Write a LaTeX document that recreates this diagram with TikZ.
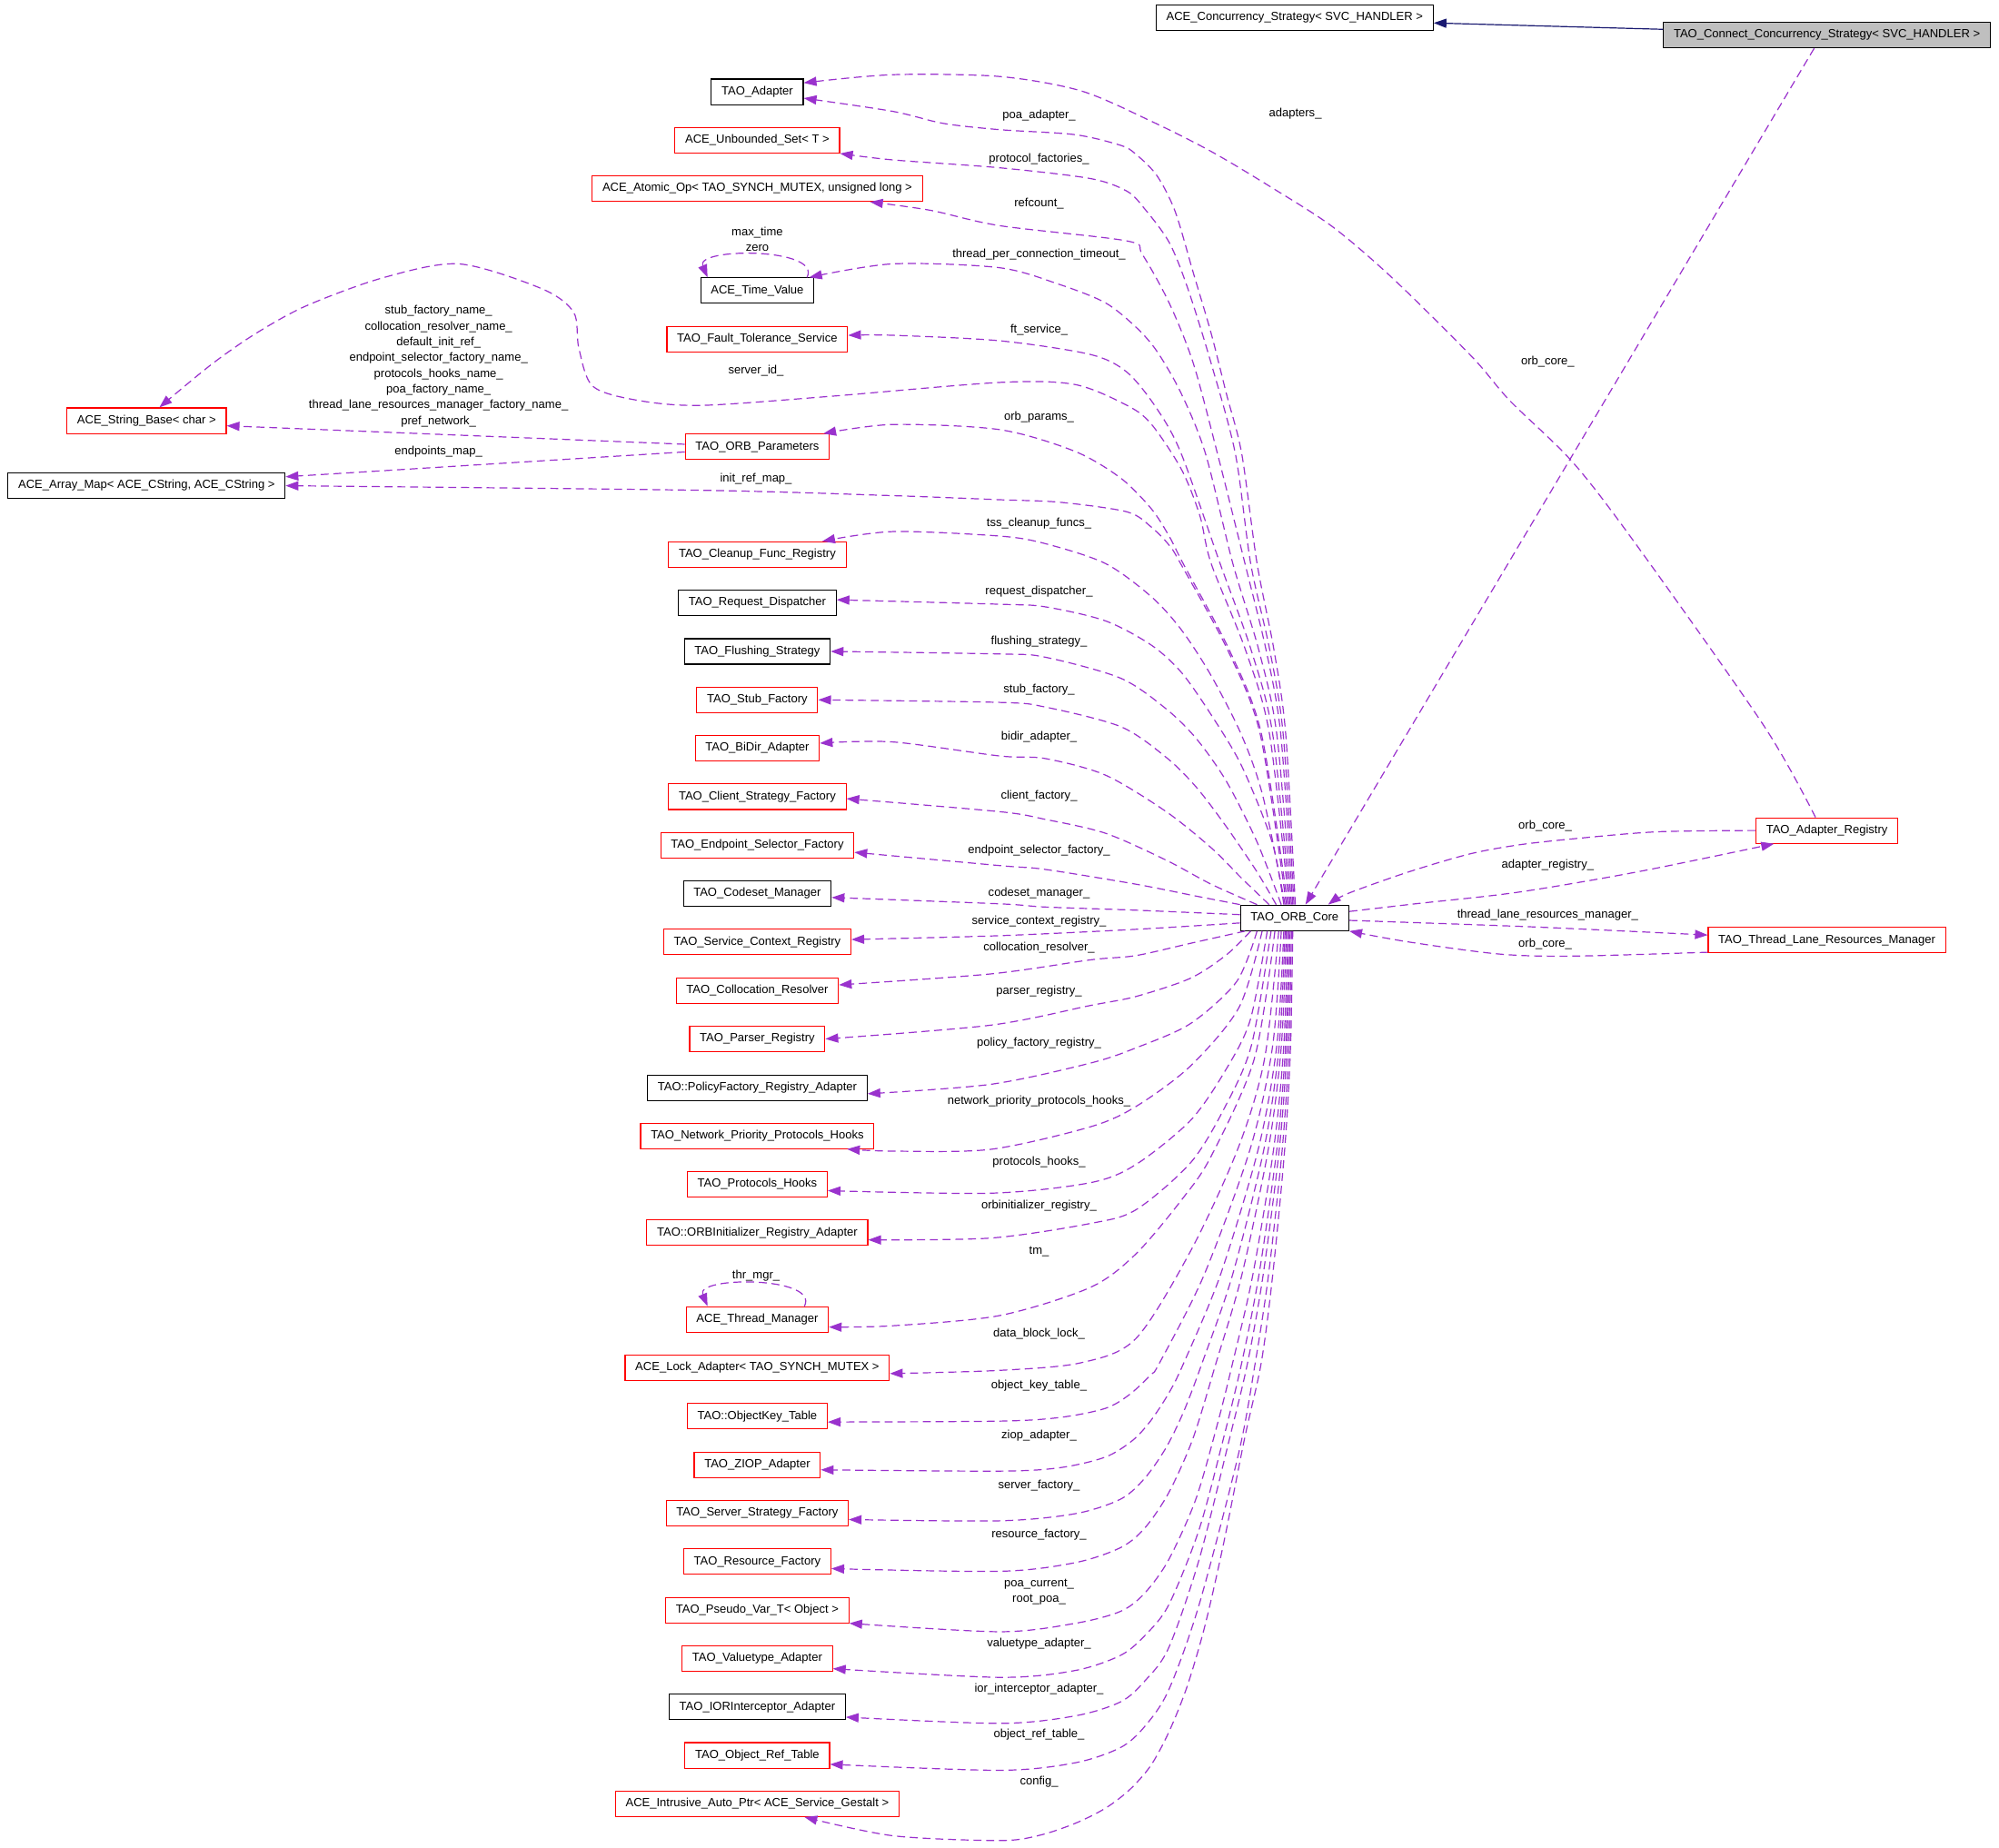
\documentclass[tikz,border=0pt]{standalone}
\usepackage{fontspec}
\newfontfamily\dgfont{Liberation Sans}
\usetikzlibrary{arrows.meta,calc}
\definecolor{edgep}{HTML}{9A32CD}
\definecolor{boxred}{HTML}{FF0000}
\definecolor{navyb}{HTML}{191970}
\definecolor{grayf}{HTML}{BFBFBF}
\newcommand\dgsize{\dgfont\fontsize{6.5pt}{8.66pt}\selectfont}
\tikzset{
  cls/.style={draw, line width=0.55pt, inner xsep=5.6pt, inner ysep=0pt, minimum height=14pt, text height=4.7pt, text depth=1.4pt, font=\dgsize},
  rcls/.style={cls, draw=boxred},
  bcls/.style={cls, draw=black},
  lbl/.style={inner sep=0pt, font=\dgsize, text height=4.7pt, text depth=1.4pt},
  mlbl/.style={inner sep=0pt, font=\dgsize, align=center},
  rel/.style={draw=edgep, line width=0.6pt, dash pattern=on 4.4pt off 2.6pt, -{Triangle[length=7pt,width=5pt]}},
  inh/.style={draw=navyb, line width=0.6pt, -{Triangle[length=7pt,width=5pt]}}
}
\begin{document}
\begin{tikzpicture}[x=0.7pt,y=-0.7pt]
\useasboundingbox (0,0) rectangle (1568,1449);
\fill[white] (0,0) rectangle (1568,1449);

% ---------- nodes ----------
\node[bcls] (conc) at (1015.5,14) {ACE\_Concurrency\_Strategy< SVC\_HANDLER >};
\node[bcls, fill=grayf] (connect) at (1433,27.5) {TAO\_Connect\_Concurrency\_Strategy< SVC\_HANDLER >};
\node[bcls] (adapter) at (594,72) {TAO\_Adapter};
\node[rcls] (uset) at (594,110) {ACE\_Unbounded\_Set< T >};
\node[rcls] (atomic) at (594,148) {ACE\_Atomic\_Op< TAO\_SYNCH\_MUTEX, unsigned long >};
\node[bcls] (timev) at (594,228) {ACE\_Time\_Value};
\node[rcls] (ft) at (594,266) {TAO\_Fault\_Tolerance\_Service};
\node[rcls] (strb) at (115,330) {ACE\_String\_Base< char >};
\node[rcls] (orbp) at (594,350.5) {TAO\_ORB\_Parameters};
\node[bcls] (amap) at (115,381) {ACE\_Array\_Map< ACE\_CString, ACE\_CString >};
\node[rcls] (cleanup) at (594,435) {TAO\_Cleanup\_Func\_Registry};
\node[bcls] (reqd) at (594,473) {TAO\_Request\_Dispatcher};
\node[bcls] (flush) at (594,511) {TAO\_Flushing\_Strategy};
\node[rcls] (stub) at (594,549) {TAO\_Stub\_Factory};
\node[rcls] (bidir) at (594,587) {TAO\_BiDir\_Adapter};
\node[rcls] (client) at (594,625) {TAO\_Client\_Strategy\_Factory};
\node[rcls] (endp) at (594,663) {TAO\_Endpoint\_Selector\_Factory};
\node[bcls] (codeset) at (594,701) {TAO\_Codeset\_Manager};
\node[rcls] (svcctx) at (594,739) {TAO\_Service\_Context\_Registry};
\node[rcls] (colloc) at (594,777) {TAO\_Collocation\_Resolver};
\node[rcls] (parser) at (594,815) {TAO\_Parser\_Registry};
\node[bcls] (policy) at (594,853.6) {TAO::PolicyFactory\_Registry\_Adapter};
\node[rcls] (netprio) at (594,891) {TAO\_Network\_Priority\_Protocols\_Hooks};
\node[rcls] (prothooks) at (594,929) {TAO\_Protocols\_Hooks};
\node[rcls] (orbinit) at (594,967) {TAO::ORBInitializer\_Registry\_Adapter};
\node[rcls] (thrmgr) at (594,1035) {ACE\_Thread\_Manager};
\node[rcls] (lock) at (594,1073) {ACE\_Lock\_Adapter< TAO\_SYNCH\_MUTEX >};
\node[rcls] (objkey) at (594,1111) {TAO::ObjectKey\_Table};
\node[rcls] (ziop) at (594,1149) {TAO\_ZIOP\_Adapter};
\node[rcls] (server) at (594,1187) {TAO\_Server\_Strategy\_Factory};
\node[rcls] (resource) at (594,1225) {TAO\_Resource\_Factory};
\node[rcls] (pseudo) at (594,1263) {TAO\_Pseudo\_Var\_T< Object >};
\node[rcls] (valuetype) at (594,1301) {TAO\_Valuetype\_Adapter};
\node[bcls] (ior) at (594,1339) {TAO\_IORInterceptor\_Adapter};
\node[rcls] (objref) at (594,1377) {TAO\_Object\_Ref\_Table};
\node[rcls] (intrusive) at (594,1415) {ACE\_Intrusive\_Auto\_Ptr< ACE\_Service\_Gestalt >};
\node[bcls] (core) at (1015.5,720) {TAO\_ORB\_Core};
\node[rcls] (areg) at (1433,651.5) {TAO\_Adapter\_Registry};
\node[rcls] (tlrm) at (1433,737.5) {TAO\_Thread\_Lane\_Resources\_Manager};

% ---------- inheritance ----------
\draw[inh] ($(connect.west)+(0,-4.5)$) -- ($(conc.east)+(0,4)$);

% ---------- right side ----------
\draw[rel] ($(connect.south)+(-10,0)$) -- ($(core.north)+(8.5,0)$);
\draw[rel] plot[smooth,tension=0.5] coordinates {($(areg.north)+(-9,0)$) (1384,570) (1284,428) (1234,363) (1184,314) (1154.7,280) (1092.7,218.6) (1045.4,178) (997.8,147.3) (950,118.8) (902.8,95) (848,71.3) (784,60) (700,58.6) ($(adapter.east)+(0,-7)$)};
\draw[rel] plot[smooth,tension=0.5] coordinates {(areg.west) (1300,652.5) (1234,658) (1190.3,662.9) (1152.3,670) (1104.8,684) (1057.3,700.9) ($(core.north)+(26.3,0)$)};
\draw[rel] plot[smooth,tension=0.5] coordinates {($(core.east)+(0,-5)$) (1110,709) (1190,700) (1284,684) ($(areg.south west)+(14.5,0)$)};
\draw[rel] plot[smooth,tension=0.5] coordinates {($(core.east)+(0,2)$) (1200,727) ($(tlrm.west)+(0,-4)$)};
\draw[rel] plot[smooth,tension=0.5] coordinates {($(tlrm.west)+(0,9.5)$) (1234,750) (1176,748.4) (1104.8,738.9) (core.south east)};

% ---------- self loops ----------
\draw[rel] ($(timev.north)+(39,0)$) .. controls (645,194) and (545,194) .. ($(timev.north)+(-39,0)$);
\draw[rel] ($(thrmgr.north)+(37,0)$) .. controls (643,1001) and (545,1001) .. ($(thrmgr.north)+(-39,0)$);

% ---------- ORB parameters ----------
\draw[rel] ($(orbp.west)+(0,-2)$) -- ($(strb.east)+(0,4)$);
\draw[rel] ($(orbp.west)+(0,4)$) -- ($(amap.east)+(0,-7)$);

% ---------- upper fan ----------
\draw[rel] plot[smooth,tension=0.5] coordinates {($(core.north)+(0.5,0)$) (1008.5,576) (999.3,510) (986,442) (974,356) (962,309) (950,261.5) (936,214) (921.8,166) (907.5,137.8) (891,121) (879,114) (843,105.6) (784,101.7) (740,96.8) (700,87.3) ($(adapter.east)+(0,5)$)};
\draw[rel] plot[smooth,tension=0.5] coordinates {($(core.north)+(-0.5,0)$) (1006.5,576) (996,510) (981,442) (969,356) (950,285) (931.5,225.7) (917,190) (898,164) (884,150) (855,140) (784,131.6) (700,125.4) (uset.south east)};
\draw[rel] plot[smooth,tension=0.5] coordinates {($(core.north)+(-1.5,0)$) (1004.6,576) (993.1,510) (976.5,442) (955,356) (936,285) (917,237.5) (896,199.6) (884,189) (784,177) (730,165) ($(atomic.south)+(88.5,0)$)};
\draw[rel] plot[smooth,tension=0.5] coordinates {($(core.north)+(-2.5,0)$) (1001.5,576) (987.4,510) (967,442) (945.6,356) (926.6,308.8) (907.5,275.6) (891,256.6) (867,237.5) (831.5,223.3) (784,210) (700,207) ($(timev.north east)+(-4,0)$)};
\draw[rel] plot[smooth,tension=0.5] coordinates {($(core.north)+(-3.5,0)$) (998.3,576) (981.4,510) (957,442) (926.6,356) (907.5,320.7) (884,292) (855,278) (784,267.3) (700,263) ($(ft.east)+(0,-3)$)};
\draw[rel] plot[smooth,tension=0.5] coordinates {($(core.north)+(-4.5,0)$) (995.8,576) (977,510) (950,442) (941,404) (926.6,368) (903,332.6) (884,318) (843,301.6) (784,300) (650,311) (550,318) (500,314) (465,303) (454,273) (450,245) (425,226.5) (360,207) (300,218) (240,240) (200,262) (165,286.5) ($(strb.north)+(10,0)$)};
\draw[rel] plot[smooth,tension=0.5] coordinates {($(core.north)+(-5.5,0)$) (989.5,576) (964.3,510) (928,442) (917,420.5) (903,399) (879,375) (843,354) (784,337) (700,333) ($(orbp.north east)+(-5,0)$)};
\draw[rel] plot[smooth,tension=0.5] coordinates {($(core.north)+(-6.5,0)$) (988.5,576) (963,510) (926,442) (917,427.6) (903,413.4) (884,401.5) (831.5,394) (784,392) (700,388.8) (550,384.6) (amap.east)};
\draw[rel] plot[smooth,tension=0.5] coordinates {($(core.north)+(-7.5,0)$) (990.7,625) (974,577) (950,530) (926.6,494) (903,468) (867,442) (819.7,426.4) (784,420.5) (700,417) ($(cleanup.north east)+(-19,0)$)};
\draw[rel] plot[smooth,tension=0.5] coordinates {($(core.north)+(-8.5,0)$) (997.8,660.5) (974,601) (950,560.7) (926.6,527.4) (903,506) (867,487) (819.7,476) (784,474) ($(reqd.east)+(0,-2.5)$)};
\draw[rel] plot[smooth,tension=0.5] coordinates {($(core.north)+(-10.5,0)$) (986,660.5) (962,613) (938.5,579.6) (914.6,556) (879,532) (819.7,515.5) (784,513) (flush.east)};
\draw[rel] plot[smooth,tension=0.5] coordinates {($(core.north)+(-14.5,0)$) (986,684) (962,648.6) (938.5,617.7) (914.6,594) (879,570) (819.7,554.6) (784,551) (stub.east)};
\draw[rel] plot[smooth,tension=0.5] coordinates {($(core.north)+(-20,0)$) (974,689) (950,665) (914.6,636.6) (867,608) (819.7,595) (784,593) (700,582) ($(bidir.east)+(0,-4)$)};
\draw[rel] plot[smooth,tension=0.5] coordinates {($(core.north)+(-29.5,0)$) (950,693.6) (914.6,674.7) (867,653.6) (819.7,642.7) (784,636.7) ($(client.east)+(0,1.5)$)};
\draw[rel] plot[smooth,tension=0.5] coordinates {(core.north west) (938.5,703) (891,693.6) (819.7,682) (784,679) ($(endp.east)+(0,5.6)$)};
\draw[rel] plot[smooth,tension=0.5] coordinates {($(core.west)+(0,-2.5)$) (891,714) (819.7,711.5) (784,709) ($(codeset.east)+(0,3)$)};
\draw[rel] plot[smooth,tension=0.5] coordinates {($(core.west)+(0,4)$) (891,729) (784,734) ($(svcctx.east)+(0,-2)$)};

% ---------- lower fan ----------
\draw[rel] plot[smooth,tension=0.5] coordinates {($(core.south west)+(4,0)$) (933.7,740) (891,749.6) (855,753) (777,764) ($(colloc.east)+(0,-4.4)$)};
\draw[rel] plot[smooth,tension=0.5] coordinates {($(core.south)+(-34.5,0)$) (962,749) (933.7,767.4) (891,781.7) (855,788.8) (777,804.2) (parser.east)};
\draw[rel] plot[smooth,tension=0.5] coordinates {($(core.south)+(-29.5,0)$) (970,770) (933.7,803) (891,822) (855,834) (777,850.6) ($(policy.east)+(0,4.4)$)};
\draw[rel] plot[smooth,tension=0.5] coordinates {($(core.south)+(-25.5,0)$) (972,790) (933.7,836.3) (891,868) (855,884) (777,901.6) (700,903) ($(netprio.south east)+(-21.5,0)$)};
\draw[rel] plot[smooth,tension=0.5] coordinates {($(core.south)+(-21.5,0)$) (980.7,800) (961,840) (933.7,879) (891,913.5) (855,927.8) (777,936) ($(prothooks.east)+(0,5)$)};
\draw[rel] plot[smooth,tension=0.5] coordinates {($(core.south)+(-18.5,0)$) (981.6,820) (960,870) (933.7,912.3) (891,949) (855,959.8) (777,971.2) ($(orbinit.east)+(0,5.6)$)};
\draw[rel] plot[smooth,tension=0.5] coordinates {($(core.south)+(-15.5,0)$) (984,830) (950,907) (927,941) (891,983.6) (855,1010) (784,1032) (700,1040) ($(thrmgr.east)+(0,6)$)};
\draw[rel] plot[smooth,tension=0.5] coordinates {($(core.south)+(-12.5,0)$) (992,830) (971.4,900) (934.6,980) (891,1050) (848,1069) (784,1075) ($(lock.east)+(0,4.5)$)};
\draw[rel] plot[smooth,tension=0.5] coordinates {($(core.south)+(-10.5,0)$) (998.3,820) (981,900) (944.5,1000) (909.6,1069) (902.5,1078.6) (885.9,1094) (867,1104.8) (831.5,1111.9) (784,1114.8) ($(objkey.east)+(0,4.5)$)};
\draw[rel] plot[smooth,tension=0.5] coordinates {($(core.south)+(-8.5,0)$) (1001.5,820) (987.3,900) (957.3,1000) (928.6,1069) (916.7,1093) (902.5,1114.6) (888.3,1130) (867,1143) (831.5,1151.3) (784,1154) ($(ziop.east)+(0,4)$)};
\draw[rel] plot[smooth,tension=0.5] coordinates {($(core.south)+(-7.5,0)$) (1003.4,820) (991.7,900) (966.8,1000) (943,1069) (928.6,1107) (914.6,1135.7) (898,1159.5) (879,1176) (843.4,1187.4) (784,1193) ($(server.east)+(0,5)$)};
\draw[rel] plot[smooth,tension=0.5] coordinates {($(core.south)+(-6.5,0)$) (1005.1,820) (995.1,900) (974.1,1000) (953.9,1069) (935.7,1128.5) (916.7,1171) (898,1198.6) (879,1214) (843.4,1225.8) (784,1232.6) ($(resource.east)+(0,5.5)$)};
\draw[rel] plot[smooth,tension=0.5] coordinates {($(core.south)+(-5.5,0)$) (1007,820) (999.2,900) (982.7,1000) (966.9,1069) (955,1116.8) (938,1176) (916.7,1223.5) (898,1249.6) (879,1264) (843.4,1273.4) (784,1280) (pseudo.south east)};
\draw[rel] plot[smooth,tension=0.5] coordinates {($(core.south)+(-4.5,0)$) (1008.4,820) (1001.7,900) (987.5,1000) (974,1069) (959.6,1128.6) (940.5,1200) (916.7,1259) (898,1283) (879,1298.5) (843.4,1310.4) (784,1315.8) ($(valuetype.east)+(0,8)$)};
\draw[rel] plot[smooth,tension=0.5] coordinates {($(core.south)+(-3.5,0)$) (1009.6,820) (1003.6,900) (990.8,1000) (978.6,1069) (964.4,1128.6) (940.5,1223.6) (916.7,1292.6) (898,1318.6) (879,1335) (843.4,1346) (784,1351.9) ($(ior.east)+(0,8)$)};
\draw[rel] plot[smooth,tension=0.5] coordinates {($(core.south)+(-2.5,0)$) (1011,820) (1005.9,900) (995,1000) (984.6,1069) (971.5,1140.4) (940.5,1259) (916.7,1325.7) (898,1354.2) (879,1370.8) (843.4,1382.8) (784,1388.7) ($(objref.east)+(0,7)$)};
\draw[rel] plot[smooth,tension=0.5] coordinates {($(core.south)+(-1.5,0)$) (1012.3,820) (1007.8,900) (998.3,1000) (989.3,1069) (976.2,1128.5) (959.6,1211.6) (945,1275.8) (931,1323.4) (916.7,1359) (902.5,1385.2) (886,1404) (867,1418.5) (843.4,1430.3) (815,1439.8) (784,1443.8) (700,1440) ($(intrusive.south)+(37,0)$)};

% ---------- labels ----------
\node[lbl] (l-adapters) at (1016,89) {adapters\_};
\node[lbl] (l-orbcore1) at (1214,284) {orb\_core\_};
\node[lbl] (l-poa) at (815,91) {poa\_adapter\_};
\node[lbl] (l-proto) at (815,125) {protocol\_factories\_};
\node[lbl] (l-ref) at (815,160) {refcount\_};
\node[mlbl] (l-maxtime) at (594,187.5) {max\_time\\zero};
\node[lbl] (l-tpct) at (815,200) {thread\_per\_connection\_timeout\_};
\node[lbl] (l-ft) at (815,259) {ft\_service\_};
\node[lbl] (l-sid) at (593,291) {server\_id\_};
\node[mlbl] (l-names) at (344,287.3) {stub\_factory\_name\_\\collocation\_resolver\_name\_\\default\_init\_ref\_\\endpoint\_selector\_factory\_name\_\\protocols\_hooks\_name\_\\poa\_factory\_name\_\\thread\_lane\_resources\_manager\_factory\_name\_\\pref\_network\_};
\node[lbl] (l-epmap) at (344,354) {endpoints\_map\_};
\node[lbl] (l-orbp) at (815,327) {orb\_params\_};
\node[lbl] (l-irm) at (593,376) {init\_ref\_map\_};
\node[lbl] (l-tss) at (815,410.6) {tss\_cleanup\_funcs\_};
\node[lbl] (l-rd) at (815,464) {request\_dispatcher\_};
\node[lbl] (l-fs) at (815,503) {flushing\_strategy\_};
\node[lbl] (l-sf) at (815,541) {stub\_factory\_};
\node[lbl] (l-bd) at (815,578.5) {bidir\_adapter\_};
\node[lbl] (l-cf) at (815,624.4) {client\_factory\_};
\node[lbl] (l-esf) at (815,667) {endpoint\_selector\_factory\_};
\node[lbl] (l-cm) at (815,701) {codeset\_manager\_};
\node[lbl] (l-scr) at (815,723) {service\_context\_registry\_};
\node[lbl] (l-cr) at (815,743.6) {collocation\_resolver\_};
\node[lbl] (l-pr) at (815,777.4) {parser\_registry\_};
\node[lbl] (l-pfr) at (815,818) {policy\_factory\_registry\_};
\node[lbl] (l-nph) at (815,864) {network\_priority\_protocols\_hooks\_};
\node[lbl] (l-ph) at (815,911.8) {protocols\_hooks\_};
\node[lbl] (l-oir) at (815,945.6) {orbinitializer\_registry\_};
\node[lbl] (l-thr) at (593,1000.6) {thr\_mgr\_};
\node[lbl] (l-tm) at (815,981.2) {tm\_};
\node[lbl] (l-dbl) at (815,1046.6) {data\_block\_lock\_};
\node[lbl] (l-okt) at (815,1087) {object\_key\_table\_};
\node[lbl] (l-ziop) at (815,1126) {ziop\_adapter\_};
\node[lbl] (l-srv) at (815,1165.4) {server\_factory\_};
\node[lbl] (l-res) at (815,1204) {resource\_factory\_};
\node[mlbl] (l-poac) at (815,1249) {poa\_current\_\\root\_poa\_};
\node[lbl] (l-vt) at (815,1289.4) {valuetype\_adapter\_};
\node[lbl] (l-ior) at (815,1325) {ior\_interceptor\_adapter\_};
\node[lbl] (l-ort) at (815,1360.7) {object\_ref\_table\_};
\node[lbl] (l-cfg) at (815,1397.7) {config\_};
\node[lbl] (l-orbcore2) at (1212,648) {orb\_core\_};
\node[lbl] (l-areg) at (1214,678.6) {adapter\_registry\_};
\node[lbl] (l-tlrm) at (1214,718) {thread\_lane\_resources\_manager\_};
\node[lbl] (l-orbcore3) at (1212,740.6) {orb\_core\_};
\end{tikzpicture}
\end{document}
